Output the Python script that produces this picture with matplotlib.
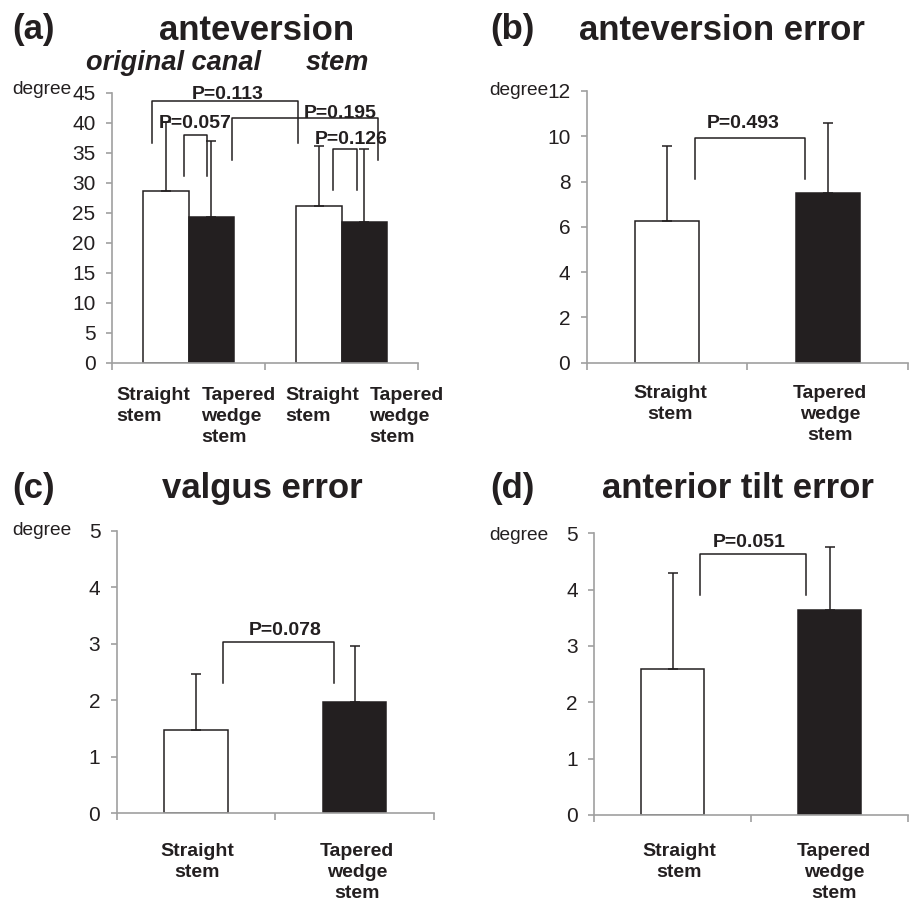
import numpy as np
import matplotlib.pyplot as plt

plt.rcParams['font.family'] = ['Liberation Sans', 'DejaVu Sans']

# data (mean + upper SD, degrees)
stem_types = ['Straight\nstem', 'Tapered\nwedge\nstem']
canal_groups = ['original canal', 'stem']

ante_mean = [28.7, 24.4, 26.1, 23.5]
ante_sd = [11.5, 12.6, 10.1, 12.2]
ante_p = ['P=0.113', 'P=0.195', 'P=0.057', 'P=0.126']

ante_err_mean = [6.26, 7.50]
ante_err_sd = [3.31, 3.10]
ante_err_p = 'P=0.493'

valgus_mean = [1.48, 1.98]
valgus_sd = [0.99, 0.99]
valgus_p = 'P=0.078'

tilt_mean = [2.60, 3.63]
tilt_sd = [1.70, 1.12]
tilt_p = 'P=0.051'

ink = '#231f20'
gray = '#a0a0a0'
fs = 14       # bold labels
tfs = 15      # tick labels


def style_ax(ax, ymax, ystep):
    ax.set_xlim(0, 2)
    ax.set_ylim(0, ymax)
    ax.set_yticks(np.arange(0, ymax + 0.001, ystep))
    ax.set_xticks([0, 1, 2])
    ax.set_xticklabels([])
    for s in ['top', 'right']:
        ax.spines[s].set_visible(False)
    for s in ['left', 'bottom']:
        ax.spines[s].set_color(gray)
        ax.spines[s].set_linewidth(1.2)
    ax.tick_params(axis='y', direction='out', length=4.3, width=1.2, color=gray,
                   pad=7.5, labelsize=tfs, labelcolor=ink)
    ax.tick_params(axis='x', direction='out', length=5, width=1.2, color=gray)


def draw_bars(ax, x, means, sds, width):
    colors = ['white', ink] * (len(means) // 2)
    ax.bar(x, means, width, color=colors, edgecolor=ink, linewidth=1.1, zorder=2)
    ax.errorbar(x, means, yerr=[np.zeros(len(sds)), sds], fmt='none', ecolor=ink,
                elinewidth=1.1, capsize=3.5, capthick=1.1, zorder=3)


def bracket(ax, x0, x1, y, yl, yr, text, tx, ty):
    ax.plot([x0, x0, x1, x1], [yl, y, y, yr], color=ink, lw=1.1, clip_on=False, zorder=4)
    ax.text(tx, ty, text, ha='center', va='baseline', fontsize=fs,
            fontweight='bold', color=ink, zorder=5)


def xlabel(ax, x, text, off, ha='center'):
    ax.annotate(text, xy=(x, 0), xycoords=('data', 'axes fraction'),
                xytext=(0, -off), textcoords='offset points', ha=ha, va='top',
                multialignment=ha, fontsize=fs, fontweight='bold', color=ink,
                linespacing=1.32, annotation_clip=False)


fig = plt.figure(figsize=(9.09, 9.07), dpi=100)
W, H = 909.0, 907.0


def fx(px):
    return px / W


def fy(py):
    return 1 - py / H


# (a) anteversion
ax = fig.add_axes([fx(112), fy(363), fx(306), 270 / H])
style_ax(ax, 45, 5)
draw_bars(ax, [0.35, 0.65, 1.35, 1.65], ante_mean, ante_sd, 0.3)
bracket(ax, 0.264, 1.213, 43.6, 36.6, 36.6, ante_p[0], 0.757, 43.95)
bracket(ax, 0.786, 1.74, 40.8, 33.9, 33.9, ante_p[1], 1.492, 40.9)
bracket(ax, 0.468, 0.621, 38.0, 31.2, 31.2, ante_p[2], 0.542, 39.1)
bracket(ax, 1.447, 1.60, 35.7, 28.8, 28.8, ante_p[3], 1.564, 36.5)
for xl, lab in zip([0.028, 0.585, 1.132, 1.683], stem_types * 2):
    xlabel(ax, xl, lab, 17.0, ha='left')

# (b) anteversion error
ax = fig.add_axes([fx(586.7), fy(362.7), fx(321.3), 271.7 / H])
style_ax(ax, 12, 2)
draw_bars(ax, [0.5, 1.5], ante_err_mean, ante_err_sd, 0.4)
bracket(ax, 0.676, 1.358, 9.94, 8.11, 8.11, ante_err_p, 0.971, 10.35)
xlabel(ax, 0.518, stem_types[0], 15.8)
xlabel(ax, 1.514, stem_types[1], 15.8)

# (c) valgus error
ax = fig.add_axes([fx(116.7), fy(813.3), fx(317.3), 282.3 / H])
style_ax(ax, 5, 1)
draw_bars(ax, [0.5, 1.5], valgus_mean, valgus_sd, 0.4)
bracket(ax, 0.672, 1.368, 3.03, 2.31, 2.31, valgus_p, 1.064, 3.16)
xlabel(ax, 0.509, stem_types[0], 21.2)
xlabel(ax, 1.515, stem_types[1], 21.2)

# (d) anterior tilt error
ax = fig.add_axes([fx(594.3), fy(815), fx(313.7), 281.7 / H])
style_ax(ax, 5, 1)
draw_bars(ax, [0.5, 1.5], tilt_mean, tilt_sd, 0.4)
bracket(ax, 0.672, 1.351, 4.63, 3.9, 3.9, tilt_p, 0.990, 4.76)
xlabel(ax, 0.539, stem_types[0], 20.2)
xlabel(ax, 1.527, stem_types[1], 20.2)

# panel titles
tkw = dict(fontsize=25, fontweight='bold', color=ink, va='baseline')
fig.text(fx(12), fy(39.5), '(a)', ha='left', **tkw)
fig.text(fx(257), fy(39.5), 'anteversion', ha='center', **tkw)
fig.text(fx(490), fy(39.5), '(b)', ha='left', **tkw)
fig.text(fx(722), fy(39.5), 'anteversion error', ha='center', **tkw)
fig.text(fx(12), fy(498), '(c)', ha='left', **tkw)
fig.text(fx(262), fy(498), 'valgus error', ha='center', **tkw)
fig.text(fx(490), fy(498), '(d)', ha='left', **tkw)
fig.text(fx(737.5), fy(498), 'anterior tilt error', ha='center', **tkw)

skw = dict(fontsize=19.5, fontweight='bold', fontstyle='italic', color=ink,
           va='baseline', ha='left')
fig.text(fx(86), fy(70), canal_groups[0], **skw)
fig.text(fx(306), fy(70), canal_groups[1], **skw)

dkw = dict(fontsize=13.8, color=ink, va='baseline', ha='left')
fig.text(fx(12), fy(94), 'degree', **dkw)
fig.text(fx(489), fy(95), 'degree', **dkw)
fig.text(fx(12), fy(535), 'degree', **dkw)
fig.text(fx(489), fy(540), 'degree', **dkw)

fig.savefig('out.png', dpi=100)
